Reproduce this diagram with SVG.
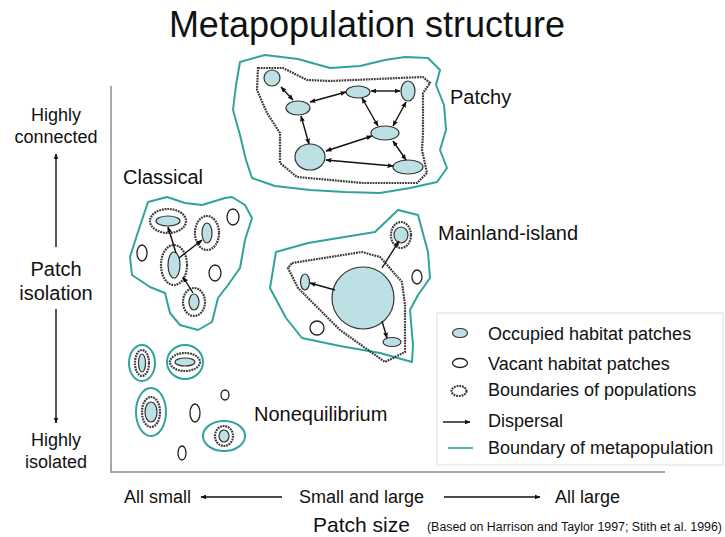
<svg xmlns="http://www.w3.org/2000/svg" width="725" height="537" viewBox="0 0 725 537">
<defs>
<style>
.occ{fill:#bde0e4;stroke:#333;stroke-width:1.2}
.vac{fill:#fff;stroke:#222;stroke-width:1.3}
.pop{fill:none;stroke:#3a3a3a;stroke-width:2.2;stroke-dasharray:1.8 0.9}
.meta{fill:none;stroke:#30a39c;stroke-width:2;stroke-linejoin:round}
.arr{stroke:#111;stroke-width:1.4;fill:none}
.axis{stroke:#8a8a8a;stroke-width:1.5;fill:none}
text{font-family:"Liberation Sans",Arial,sans-serif;fill:#111}
.lbl{font-size:20px}
.ax{font-size:18px}
.leg{font-size:18px}
</style>
<marker id="ah" viewBox="0 0 10 10" refX="9" refY="5" markerWidth="6" markerHeight="6" orient="auto-start-reverse" markerUnits="userSpaceOnUse"><path d="M0,1 L10,5 L0,9 z" fill="#111"/></marker>
</defs>
<rect width="725" height="537" fill="#fff"/>

<text x="367" y="37" font-size="36" text-anchor="middle">Metapopulation structure</text>

<g id="axes">
<path class="axis" d="M111,86 V472 H665"/>
</g>

<!-- Patchy -->
<g id="patchy">
<path class="meta" d="M240,62 L265,55 L298,59 L330,68 L360,66 L385,60 L405,57 L428,58 L440,70 L436,85 L444,105 L446,130 L440,150 L447,168 L437,182 L410,188 L380,193 L345,192 L310,190 L275,186 L252,178 L246,160 L240,135 L233,110 L236,85 Z"/>
<path class="pop" d="M258,68 L283,68 L307,80 L330,81 L423,77 L430,83 L423,93 L423,133 L422,150 L427,173 L417,183 L363,183 L297,177 L280,163 L280,133 L267,113 L257,90 Z"/>
<text class="lbl" x="450" y="104">Patchy</text>
</g>
<g id="p1"><ellipse class="occ" cx="272" cy="78" rx="8" ry="8"/></g>
<g id="p2"><ellipse class="occ" cx="298" cy="108" rx="12" ry="7"/></g>
<g id="p3"><ellipse class="occ" cx="358" cy="92" rx="12" ry="6"/></g>
<g id="p4"><ellipse class="occ" cx="408" cy="91" rx="7" ry="10"/></g>
<g id="p5"><ellipse class="occ" cx="385" cy="133" rx="14" ry="7"/></g>
<g id="p6"><ellipse class="occ" cx="310" cy="157" rx="15" ry="13"/></g>
<g id="p7"><ellipse class="occ" cx="408" cy="167" rx="15" ry="7"/></g>

<!-- Classical -->
<g id="classical">
<path class="meta" d="M148,202 L167,197 L185,203 L202,205 L225,198 L232,197 L245,205 L252,218 L245,240 L240,268 L228,285 L218,298 L212,322 L198,330 L180,325 L170,313 L165,293 L150,287 L132,275 L130,257 L137,235 Z"/>
<text class="lbl" x="123" y="184">Classical</text>
</g>
<g id="c1"><ellipse class="pop" cx="168" cy="221" rx="18" ry="12"/><ellipse class="occ" cx="168" cy="221" rx="12" ry="5"/></g>
<g id="c2"><ellipse class="pop" cx="207" cy="233" rx="12" ry="17"/><ellipse class="occ" cx="207" cy="233" rx="5" ry="10"/></g>
<g id="c3"><ellipse class="pop" cx="174" cy="265" rx="13" ry="20"/><ellipse class="occ" cx="174" cy="265" rx="6" ry="13"/></g>
<g id="c4"><ellipse class="pop" cx="194" cy="302" rx="11" ry="14"/><ellipse class="occ" cx="194" cy="302" rx="5" ry="8"/></g>
<g id="c5"><ellipse class="vac" cx="142" cy="253" rx="5" ry="8"/></g>
<g id="c6"><ellipse class="vac" cx="233" cy="217" rx="6" ry="8"/></g>
<g id="c7"><ellipse class="vac" cx="215" cy="273" rx="6" ry="8"/></g>

<!-- Mainland-island -->
<g id="mainland-island">
<path class="meta" d="M276,252 L308,243 L375,232 L398,210 L418,215 L428,252 L430,278 L418,295 L410,310 L413,345 L412,362 L380,353 L340,346 L302,338 L286,318 L270,288 Z"/>
<path class="pop" stroke-width="1.6" d="M292,263 L362,252 L380,257 L402,282 L405,305 L405,332 L405,352 L385,362 L340,330 L298,288 L288,268 Z"/>
<text class="lbl" x="438" y="240">Mainland-island</text>
</g>
<g id="m1"><circle class="occ" cx="363" cy="298" r="31"/></g>
<g id="m2"><ellipse class="occ" cx="305" cy="282" rx="4.5" ry="8"/></g>
<g id="m3"><ellipse class="pop" cx="401" cy="235" rx="10" ry="13"/><ellipse class="occ" cx="401" cy="235" rx="7" ry="8"/></g>
<g id="m4"><ellipse class="occ" cx="392" cy="342" rx="9" ry="4.5"/></g>
<g id="m5"><ellipse class="vac" cx="417" cy="277" rx="5" ry="7"/></g>
<g id="m6"><ellipse class="vac" cx="317" cy="328" rx="7" ry="7"/></g>

<!-- Nonequilibrium -->
<g id="nonequilibrium">
<text class="lbl" x="254" y="421">Nonequilibrium</text>
</g>
<g id="n1"><ellipse class="meta" cx="142" cy="363" rx="13" ry="18"/><ellipse class="pop" cx="142" cy="363" rx="7" ry="13"/><ellipse class="occ" cx="142" cy="363" rx="3.5" ry="9"/></g>
<g id="n2"><ellipse class="meta" cx="185" cy="362" rx="18" ry="17"/><ellipse class="pop" cx="185" cy="362" rx="15" ry="9"/><ellipse class="occ" cx="185" cy="362" rx="10" ry="4"/></g>
<g id="n3"><ellipse class="meta" cx="151" cy="412" rx="15" ry="24"/><ellipse class="pop" cx="151" cy="412" rx="9" ry="15"/><ellipse class="occ" cx="151" cy="412" rx="6" ry="10"/></g>
<g id="n4"><ellipse class="meta" cx="224" cy="436" rx="21" ry="15"/><ellipse class="pop" cx="224" cy="436" rx="9" ry="10"/><ellipse class="occ" cx="224" cy="436" rx="5" ry="6"/></g>
<g id="n5"><ellipse class="vac" cx="225" cy="395" rx="4" ry="5"/></g>
<g id="n6"><ellipse class="vac" cx="195" cy="413" rx="5" ry="9"/></g>
<g id="n7"><ellipse class="vac" cx="182" cy="453" rx="4" ry="7"/></g>

<!-- Connectors -->
<g id="connectors">
<line class="arr" x1="281" y1="87" x2="293" y2="100" marker-start="url(#ah)" marker-end="url(#ah)"/>
<line class="arr" x1="310" y1="102" x2="346" y2="92" marker-start="url(#ah)" marker-end="url(#ah)"/>
<line class="arr" x1="371" y1="91" x2="400" y2="91" marker-start="url(#ah)" marker-end="url(#ah)"/>
<line class="arr" x1="406" y1="102" x2="393" y2="126" marker-start="url(#ah)" marker-end="url(#ah)"/>
<line class="arr" x1="362" y1="98" x2="378" y2="126" marker-start="url(#ah)" marker-end="url(#ah)"/>
<line class="arr" x1="301" y1="116" x2="309" y2="144" marker-start="url(#ah)" marker-end="url(#ah)"/>
<line class="arr" x1="372" y1="136" x2="326" y2="151" marker-start="url(#ah)" marker-end="url(#ah)"/>
<line class="arr" x1="393" y1="141" x2="406" y2="160" marker-start="url(#ah)" marker-end="url(#ah)"/>
<line class="arr" x1="326" y1="160" x2="393" y2="166" marker-start="url(#ah)" marker-end="url(#ah)"/>

<line class="arr" x1="176" y1="253" x2="168" y2="227" marker-end="url(#ah)"/>
<line class="arr" x1="179" y1="258" x2="202" y2="240" marker-end="url(#ah)"/>
<line class="arr" x1="193" y1="293" x2="183" y2="277" marker-end="url(#ah)"/>

<line class="arr" x1="335" y1="290" x2="310" y2="283" marker-end="url(#ah)"/>
<line class="arr" x1="382" y1="268" x2="399" y2="241" marker-end="url(#ah)"/>
<line class="arr" x1="382" y1="321" x2="387" y2="338" marker-end="url(#ah)"/>
</g>

<!-- Axis labels -->
<g id="yaxis">
<text class="ax" x="56" y="121" text-anchor="middle">Highly</text>
<text class="ax" x="56" y="143" text-anchor="middle">connected</text>
<line class="arr" x1="56" y1="247" x2="56" y2="154" marker-end="url(#ah)"/>
<text x="56" y="276" font-size="20" text-anchor="middle">Patch</text>
<text x="56" y="300" font-size="20" text-anchor="middle">isolation</text>
<line class="arr" x1="56" y1="309" x2="56" y2="423" marker-end="url(#ah)"/>
<text class="ax" x="56" y="446" text-anchor="middle">Highly</text>
<text class="ax" x="56" y="468" text-anchor="middle">isolated</text>
</g>
<g id="xaxis">
<text class="ax" x="124" y="503">All small</text>
<line class="arr" x1="282" y1="497" x2="201" y2="497" marker-end="url(#ah)"/>
<text class="ax" x="299" y="503">Small and large</text>
<line class="arr" x1="444" y1="497" x2="540" y2="497" marker-end="url(#ah)"/>
<text class="ax" x="555" y="503">All large</text>
<text x="313" y="532" font-size="21">Patch size</text>
<text x="427" y="531" font-size="12" textLength="295" lengthAdjust="spacingAndGlyphs">(Based on Harrison and Taylor 1997; Stith et al. 1996)</text>
</g>

<!-- Legend -->
<g id="legend">
<rect x="437" y="313" width="286" height="152" fill="#fff" stroke="#dde6e6" stroke-width="1.2"/>
<ellipse class="occ" cx="460" cy="333" rx="7.5" ry="4.5" stroke-width="1.6"/>
<text class="leg" x="488" y="340">Occupied habitat patches</text>
<ellipse class="vac" cx="460" cy="363" rx="7.5" ry="4.5" stroke-width="1.6"/>
<text class="leg" x="488" y="370">Vacant habitat patches</text>
<ellipse class="pop" cx="459" cy="391" rx="7.5" ry="5" stroke-width="1.6"/>
<text class="leg" x="488" y="396">Boundaries of populations</text>
<line class="arr" x1="443" y1="422" x2="470" y2="422" marker-end="url(#ah)"/>
<text class="leg" x="488" y="427">Dispersal</text>
<line x1="448" y1="448" x2="473" y2="448" stroke="#30a39c" stroke-width="1.6"/>
<text class="leg" x="488" y="454">Boundary of metapopulation</text>
</g>
</svg>
